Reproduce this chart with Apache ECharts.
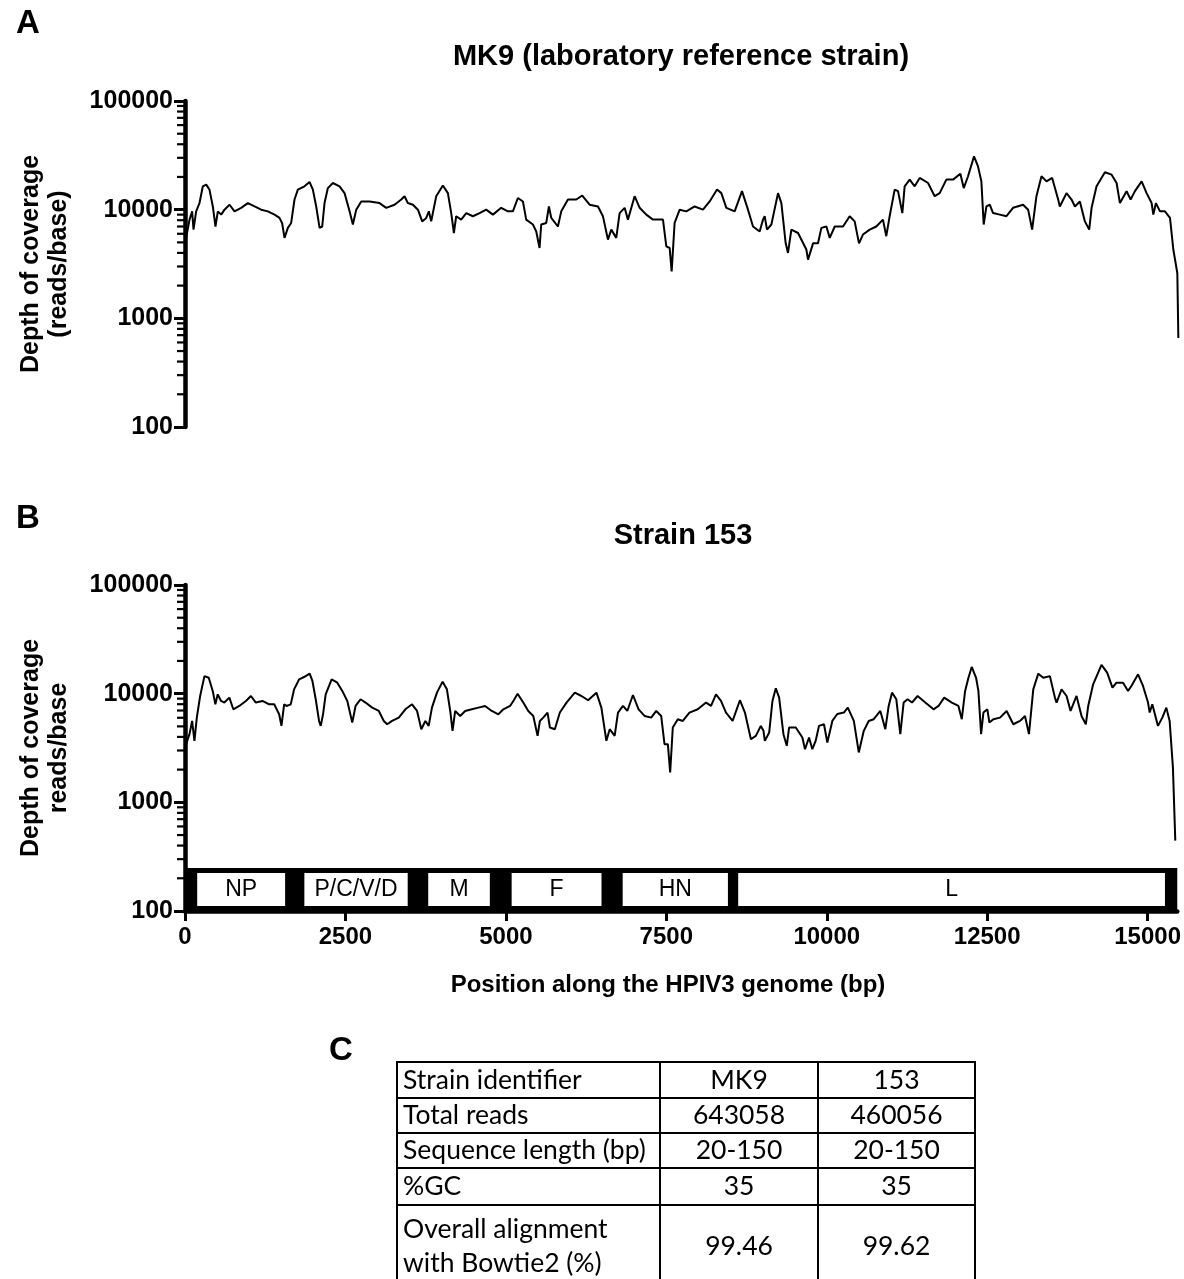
<!DOCTYPE html>
<html><head><meta charset="utf-8">
<script src="https://cdn.jsdelivr.net/npm/echarts@6/dist/echarts.min.js"></script>
<style>html,body{margin:0;padding:0;background:#fff}#c{width:1184px;height:1279px}</style>
</head><body><div id="c"></div>
<script>
// ---------------- data ----------------
const genomeLength = 15462;
const xTicks = [0, 2500, 5000, 7500, 10000, 12500, 15000];
const yTicks = [100, 1000, 10000, 100000];
const yMinorTicks = [200,300,400,500,600,700,800,900,2000,3000,4000,5000,6000,7000,8000,9000,20000,30000,40000,50000,60000,70000,80000,90000];

const mk9Pos = [0,18,70,111,132,173,225,277,329,380,432,473,510,562,613,691,769,872,976,1080,1183,1286,1390,1467,1508,1545,1597,1648,1700,1752,1855,1933,1985,2037,2089,2130,2166,2218,2296,2399,2477,2555,2606,2658,2736,2865,3020,3124,3253,3357,3408,3460,3538,3616,3682,3745,3786,3822,3900,4003,4081,4133,4174,4210,4288,4366,4469,4573,4676,4780,4909,5013,5090,5168,5246,5297,5401,5453,5504,5530,5608,5649,5686,5789,5841,5945,6074,6167,6281,6411,6488,6566,6618,6695,6747,6825,6876,6980,7058,7161,7265,7420,7472,7524,7555,7601,7679,7783,7912,8041,8145,8259,8326,8404,8533,8647,8740,8818,8921,8973,8999,9035,9103,9206,9258,9325,9361,9413,9517,9646,9672,9750,9827,9879,9957,10009,10087,10216,10318,10396,10463,10525,10629,10732,10835,10887,10939,11017,11069,11136,11172,11250,11328,11405,11535,11638,11716,11819,11923,12037,12089,12156,12249,12311,12363,12399,12441,12493,12545,12648,12752,12855,13011,13089,13151,13218,13296,13374,13462,13555,13581,13685,13763,13815,13892,13970,14037,14074,14151,14281,14385,14462,14514,14617,14680,14747,14851,14928,15006,15032,15073,15136,15213,15291,15343,15405,15421];
const mk9Depth = [2500,5520,8100,9650,6550,9650,11500,16400,17000,15300,10700,7000,9650,9000,10000,11100,9650,10400,11500,10700,10000,9650,9000,8400,7500,5500,6800,7550,12400,15300,16400,18000,15300,10700,6800,7000,11500,15800,17600,16400,14200,9650,7300,10000,11900,11900,11500,10400,11100,12400,13300,11500,11100,10000,7800,8400,9650,7800,13300,16700,14200,9300,6100,8700,8100,9300,8700,9300,10000,9000,10400,9650,9650,12800,11900,8100,7300,6300,4440,7300,7550,10700,8400,7000,9650,12400,12400,13500,11100,10700,8700,5300,6550,5500,9300,10400,8100,13300,10400,9000,8100,8100,4600,4440,2700,7550,10000,9650,10700,10000,11900,15300,14200,10400,9650,14800,10000,7000,6300,8100,8700,6550,7300,14200,11500,4900,4000,6550,6100,4300,3470,4900,4900,6800,7000,5500,7000,7000,8700,7800,4900,5900,6550,7000,8100,5700,8700,15300,14800,9300,16400,18900,16400,19600,17600,13300,14200,18900,18900,21400,15800,20300,31000,25000,18200,7300,10700,11100,9300,9000,8700,10400,11100,10000,6550,13300,20300,18200,19600,12400,10700,14200,12400,10700,11900,7800,6550,10400,16400,22100,21000,17600,11500,14800,12400,14800,18200,14200,11500,9000,11500,9650,9650,8400,4300,2600,660];

const s153Pos = [0,18,70,111,147,184,236,303,370,432,473,510,562,613,691,753,846,949,1027,1104,1208,1311,1390,1467,1503,1545,1581,1648,1700,1778,1855,1943,1985,2037,2089,2115,2151,2192,2285,2373,2451,2529,2606,2658,2736,2813,2917,3020,3098,3150,3227,3331,3434,3538,3616,3682,3745,3797,3848,3926,4014,4081,4133,4169,4210,4288,4366,4469,4573,4676,4780,4883,4961,5065,5116,5183,5271,5349,5427,5494,5530,5582,5649,5686,5763,5841,5945,6074,6178,6281,6411,6488,6566,6618,6695,6747,6825,6892,6980,7068,7161,7265,7343,7420,7472,7524,7560,7601,7679,7757,7860,7990,8119,8197,8274,8352,8430,8533,8647,8725,8818,8895,8973,9014,9035,9103,9154,9206,9258,9325,9377,9413,9517,9620,9661,9724,9775,9827,9879,9957,10009,10087,10164,10266,10328,10422,10499,10577,10654,10732,10835,10913,10965,11017,11084,11146,11198,11260,11328,11416,11535,11664,11742,11830,11949,12052,12104,12156,12208,12259,12327,12363,12405,12441,12503,12534,12596,12700,12803,12907,13011,13089,13151,13218,13296,13374,13477,13555,13581,13659,13737,13799,13892,13970,14037,14074,14151,14281,14369,14452,14514,14617,14695,14747,14851,14928,15006,15032,15073,15161,15229,15291,15343,15394,15431];
const s153Depth = [1900,3430,4240,5610,3680,6020,9520,14500,14000,10600,7980,9860,8570,8280,9200,7180,7710,8570,9520,8280,8570,7980,7980,6460,5050,7980,7710,7980,10960,13550,14230,15280,13100,8880,5610,5050,6460,9860,13550,12620,10600,8570,5420,7710,8880,8280,7440,6930,5610,5230,5610,6020,7180,7980,6930,4710,5610,5050,7440,10220,12900,10960,6930,4550,6930,6240,6930,7180,7440,7710,6930,6460,7180,7710,8570,10000,8280,6930,6240,4090,5610,6020,6700,4880,4710,6700,8280,10220,9520,8700,10220,7440,3680,4710,4090,6700,7710,6930,9720,7180,6240,6020,6930,6240,3430,3430,1880,4880,5820,5610,6700,7180,8280,7710,9860,8570,6700,5610,8700,6700,3810,4090,5050,4550,3680,4390,8570,11200,9200,4240,3310,4880,4880,3950,3080,3950,3080,3680,5050,5230,3550,5610,6500,6700,7440,5610,2880,4550,5610,5820,6930,4710,7710,10220,8880,4240,8280,8880,8280,9520,8280,7180,7710,9200,8280,7710,5820,10600,14000,17600,14000,10600,4240,6700,7180,5420,5820,6020,6930,5230,5610,6240,4240,10960,15280,14000,14500,9200,8280,10960,9520,6930,9520,6240,5230,7710,12200,18400,15600,11350,12620,12620,10600,11780,15070,11780,8280,6700,7980,5050,6020,7440,5610,2100,444];

const geneNames = ['NP', 'P/C/V/D', 'M', 'F', 'HN', 'L'];
const geneStart = [190, 1860, 3790, 5090, 6820, 8620];
const geneEnd = [1560, 3470, 4750, 6490, 8460, 15270];

const panelLetters = ['A', 'B', 'C'];
const panelTitles = ['MK9 (laboratory reference strain)', 'Strain 153'];
const yTitles = ['Depth of coverage\n(reads/base)', 'Depth of coverage\nreads/base'];
const xTitle = 'Position along the HPIV3 genome (bp)';

const tableHeader = ['Strain identifier', 'MK9', '153'];
const tableRowLabels = ['Total reads', 'Sequence length (bp)', '%GC', 'Overall alignment\nwith Bowtie2 (%)'];
const tableMK9 = ['643058', '20-150', '35', '99.46'];
const table153 = ['460056', '20-150', '35', '99.62'];

// ---------------- chart ----------------
const FONT = "'Liberation Sans', Arial, sans-serif";
const TFONT = "Lato, 'Liberation Sans', sans-serif";
const zip = (a, b) => a.map((v, i) => [v, b[i]]);

const grids = [
  { left: 185, top: 101, width: 996, height: 326 },
  { left: 185, top: 585, width: 996, height: 326 }
];

function yAxisFor(i) {
  return {
    gridIndex: i, type: 'log', logBase: 10, min: 100, max: 100000,
    axisLine: { show: true, lineStyle: { color: '#000', width: 4.5 } },
    axisTick: { show: true, length: 11, lineStyle: { color: '#000', width: 3 } },
    axisLabel: { color: '#000', fontFamily: FONT, fontWeight: 'bold', fontSize: 25, margin: 12,
      formatter: v => String(Math.round(v)) },
    splitLine: { show: false }
  };
}

const minorTickSeries = [0, 1].map(i => ({
  type: 'custom', xAxisIndex: i, yAxisIndex: i, silent: true, z: 5,
  data: yMinorTicks.map(v => [0, v]),
  renderItem: (params, api) => {
    const p = api.coord([api.value(0), api.value(1)]);
    return { type: 'line', shape: { x1: p[0] - 8, y1: p[1], x2: p[0], y2: p[1] },
      style: { stroke: '#000', lineWidth: 2.2 } };
  }
}));

const bandSeries = {
  type: 'custom', xAxisIndex: 1, yAxisIndex: 1, silent: true, z: 3,
  data: [[0, genomeLength]],
  renderItem: (params, api) => {
    const a = api.coord([api.value(0), 100]);
    const b = api.coord([api.value(1), 100]);
    return { type: 'rect', shape: { x: a[0], y: a[1] - 43, width: b[0] - a[0], height: 43 },
      style: { fill: '#000' } };
  }
};

const geneSeries = {
  type: 'custom', xAxisIndex: 1, yAxisIndex: 1, silent: true, z: 4,
  data: geneNames.map((n, i) => [geneStart[i], geneEnd[i], n]),
  renderItem: (params, api) => {
    const a = api.coord([api.value(0), 100]);
    const b = api.coord([api.value(1), 100]);
    const name = geneNames[params.dataIndex];
    return { type: 'group', children: [
      { type: 'rect', shape: { x: a[0], y: a[1] - 38, width: b[0] - a[0], height: 33 },
        style: { fill: '#fff' } },
      { type: 'text', x: (a[0] + b[0]) / 2, y: a[1] - 21.5,
        style: { text: name, fill: '#000', font: '23px ' + FONT,
          align: 'center', verticalAlign: 'middle', textAlign: 'center', textVerticalAlign: 'middle' } }
    ] };
  }
};

const lineSeries = [
  { type: 'line', xAxisIndex: 0, yAxisIndex: 0, data: zip(mk9Pos, mk9Depth) },
  { type: 'line', xAxisIndex: 1, yAxisIndex: 1, data: zip(s153Pos, s153Depth) }
].map(s => Object.assign(s, { showSymbol: false, symbol: 'none', silent: true, z: 6,
  lineStyle: { color: '#000', width: 2 } }));

// graphic texts
const g = [];
function txt(x, y, text, font, opts) {
  g.push(Object.assign({ type: 'text', x: x, y: y, silent: true,
    style: Object.assign({ text: text, font: font, fill: '#000',
      textAlign: 'center', textVerticalAlign: 'middle', align: 'center', verticalAlign: 'middle' }, (opts && opts.style) || {}) },
    (opts && opts.el) || {}));
}
txt(28, 24, panelLetters[0], 'bold 33px ' + FONT);
txt(28, 519, panelLetters[1], 'bold 33px ' + FONT);
txt(341, 1051, panelLetters[2], 'bold 33px ' + FONT);
txt(681, 57, panelTitles[0], 'bold 29px ' + FONT);
txt(683, 536, panelTitles[1], 'bold 29px ' + FONT);
txt(45, 264, yTitles[0], 'bold 25px ' + FONT, { el: { rotation: Math.PI / 2 }, style: { lineHeight: 28 } });
txt(45, 748, yTitles[1], 'bold 25px ' + FONT, { el: { rotation: Math.PI / 2 }, style: { lineHeight: 28 } });
txt(668, 985, xTitle, 'bold 24px ' + FONT);

// table
const colX = [397, 660, 818, 975];
const rowY = [1062, 1098, 1133, 1168, 1205, 1320];
rowY.slice(0, 5).forEach(y => g.push({ type: 'line', silent: true,
  shape: { x1: colX[0] - 1, y1: y, x2: colX[3] + 1, y2: y }, style: { stroke: '#000', lineWidth: 2 } }));
colX.forEach(x => g.push({ type: 'line', silent: true,
  shape: { x1: x, y1: rowY[0], x2: x, y2: 1279 }, style: { stroke: '#000', lineWidth: 2 } }));
const allLabels = [tableHeader[0]].concat(tableRowLabels);
const allA = [tableHeader[1]].concat(tableMK9);
const allB = [tableHeader[2]].concat(table153);
for (let r = 0; r < allLabels.length; r++) {
  const cy = r < 4 ? (rowY[r] + rowY[r + 1]) / 2 : 1246;
  txt(403, cy, allLabels[r], '26.5px ' + TFONT, { style: { textAlign: 'left', align: 'left', lineHeight: 34 } });
  txt((colX[1] + colX[2]) / 2, cy, allA[r], '26.5px ' + TFONT);
  txt((colX[2] + colX[3]) / 2, cy, allB[r], '26.5px ' + TFONT);
}

const chart = echarts.init(document.getElementById('c'));
chart.setOption({
  animation: false,
  backgroundColor: '#fff',
  grid: grids,
  xAxis: [
    { gridIndex: 0, type: 'value', min: 0, max: genomeLength, show: false },
    { gridIndex: 1, type: 'value', min: 0, max: genomeLength,
      axisLine: { show: true, lineStyle: { color: '#000', width: 4.5 } },
      axisTick: { show: true, length: 10, customValues: xTicks, lineStyle: { color: '#000', width: 3 } },
      axisLabel: { color: '#000', fontFamily: FONT, fontWeight: 'bold', fontSize: 24, margin: 14,
        customValues: xTicks, formatter: v => String(v) },
      splitLine: { show: false } }
  ],
  yAxis: [yAxisFor(0), yAxisFor(1)],
  series: [bandSeries, geneSeries].concat(minorTickSeries, lineSeries),
  graphic: { elements: g }
});
</script></body></html>
